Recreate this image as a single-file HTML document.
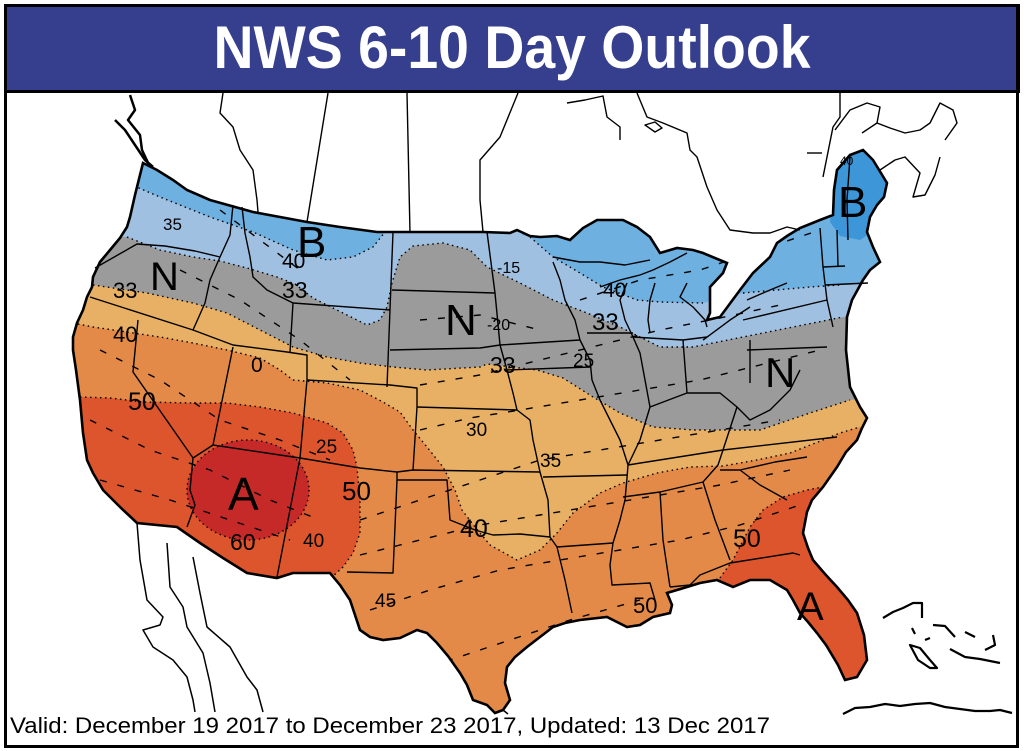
<!DOCTYPE html>
<html><head><meta charset="utf-8"><style>
html,body{margin:0;padding:0;background:#fff;}
svg{display:block;}
text{font-family:"Liberation Sans",sans-serif;}
</style></head><body>
<svg width="1024" height="751" viewBox="0 0 1024 751" xmlns="http://www.w3.org/2000/svg">
<defs>
<clipPath id="us"><path id="usp" d="M143,163 L157,170 L173,180 L187,190 L210,200 L253,212 L307,222 L340,227 L377,232 L483,232 L510,233 L517,230 L530,236 L540,237 L557,236 L570,240 L583,228 L597,220 L623,220 L637,227 L650,237 L660,253 L677,248 L693,250 L703,253 L727,263 L723,273 L710,287 L710,313 L707,320 L720,317 L740,290 L753,273 L770,257 L777,243 L787,236 L800,228 L820,220 L833,215 L834,190 L837,170 L850,155 L863,150 L873,160 L887,183 L884,197 L877,205 L870,217 L867,232 L873,247 L880,262 L870,270 L863,280 L852,300 L847,317 L846,350 L850,387 L860,407 L867,418 L862,428 L857,440 L846,452 L837,467 L823,487 L812,500 L807,512 L803,533 L808,548 L813,560 L825,574 L837,587 L848,600 L857,613 L864,635 L867,660 L857,677 L845,680 L838,665 L826,645 L817,633 L808,622 L800,613 L793,600 L787,590 L770,580 L750,580 L733,587 L717,580 L700,583 L687,587 L667,593 L672,605 L670,613 L653,617 L640,625 L627,627 L607,617 L580,620 L565,623 L553,627 L540,637 L527,647 L515,657 L507,667 L505,683 L510,700 L503,710 L495,713 L487,705 L473,700 L467,685 L460,673 L448,656 L437,643 L427,633 L417,630 L400,638 L383,640 L370,637 L360,630 L355,615 L350,600 L340,585 L330,573 L293,573 L277,578 L247,573 L223,558 L200,543 L177,527 L137,523 L120,507 L103,490 L93,473 L87,460 L83,433 L80,400 L76,370 L73,350 L73,337 L77,323 L83,310 L87,297 L92,287 L93,277 L100,262 L110,250 L120,238 L127,227 L130,217 L135,195 L140,175 Z"/></clipPath>
</defs>
<rect x="0" y="0" width="1024" height="751" fill="#fff"/>
<!-- title -->
<rect x="4" y="4" width="1016" height="89" fill="#000"/>
<rect x="7" y="7" width="1010" height="83" fill="#363f8e"/>
<text x="512" y="68" text-anchor="middle" font-size="60" font-weight="bold" fill="#fff" textLength="597" lengthAdjust="spacingAndGlyphs">NWS 6-10 Day Outlook</text>

<!-- color fields -->
<g clip-path="url(#us)">
<rect x="0" y="90" width="1024" height="650" fill="#e38a48"/>
<path fill="#e8b064" d="M20,323 L73,323 L93,327 L127,332 L160,337 L193,343 L227,350 L260,358 L280,370 L293,380 L327,383 L360,390 L383,402 L400,412 L413,430 L427,447 L443,467 L455,490 L462,510 L475,527 L490,545 L517,560 L540,550 L557,533 L573,513 L600,493 L623,483 L657,473 L690,467 L723,466 L757,460 L790,453 L823,440 L840,433 L860,427 L950,420 L950,100 L20,100 Z"/>
<path fill="#9b9b9b" d="M20,285 L93,285 L147,293 L193,303 L227,313 L260,330 L293,347 L327,357 L360,363 L393,367 L427,370 L480,367 L487,364 L537,370 L563,378 L593,397 L620,413 L653,427 L693,430 L760,430 L810,413 L850,400 L950,390 L950,100 L20,100 Z"/>
<path fill="#a0c0e1" d="M20,237 L127,237 L160,250 L193,257 L220,261 L247,268 L277,277 L295,284 L313,298 L343,313 L367,325 L380,320 L387,307 L392,283 L400,257 L413,246 L443,243 L470,250 L487,267 L520,283 L553,300 L587,313 L620,327 L660,347 L693,347 L743,337 L793,327 L843,317 L950,315 L950,100 L20,100 Z"/>
<path fill="#6eb0e0" d="M20,100 L400,100 L390,225 L385,232 L373,247 L353,257 L327,260 L293,250 L253,232 L210,217 L160,197 L120,180 L20,175 Z"/>
<path fill="#6eb0e0" d="M522,100 L522,235 L530,237 L553,257 L580,273 L603,287 L637,300 L660,302 L703,303 L743,293 L810,287 L840,285 L950,280 L950,100 Z"/>
<path fill="#3d96d7" d="M833,168 L850,152 L868,150 L880,165 L890,185 L878,215 L872,232 L860,240 L840,236 L830,222 L833,195 Z"/>
<path fill="#dc552d" d="M20,397 L80,397 L110,398 L143,402 L193,403 L227,403 L260,407 L293,413 L327,423 L343,433 L353,450 L357,467 L360,500 L360,533 L353,553 L343,567 L332,577 L332,640 L20,640 Z"/>
<path fill="#dc552d" d="M717,582 L733,560 L750,527 L763,510 L783,497 L807,490 L823,487 L950,480 L950,720 L700,720 Z"/>
<ellipse cx="248" cy="490" rx="61" ry="50" fill="#c62a28"/>

<!-- dotted contour boundaries -->
<g fill="none" stroke="#000" stroke-width="1.4" stroke-dasharray="1.5,3.5">
<path d="M73,323 L93,327 L127,332 L160,337 L193,343 L227,350 L260,358 L280,370 L293,380 L327,383 L360,390 L383,402 L400,412 L413,430 L427,447 L443,467 L455,490 L462,510 L475,527 L490,545 L517,560 L540,550 L557,533 L573,513 L600,493 L623,483 L657,473 L690,467 L723,466 L757,460 L790,453 L823,440 L840,433 L860,427"/>
<path d="M93,285 L147,293 L193,303 L227,313 L260,330 L293,347 L327,357 L360,363 L393,367 L427,370 L480,367 L487,364 L537,370 L563,378 L593,397 L620,413 L653,427 L693,430 L760,430 L810,413 L850,400"/>
<path d="M127,237 L160,250 L193,257 L220,261 L247,268 L277,277 L295,284 L313,298 L343,313 L367,325 L380,320 L387,307 L392,283 L400,257 L413,246 L443,243 L470,250 L487,267 L520,283 L553,300 L587,313 L620,327 L660,347 L693,347 L743,337 L793,327 L843,317"/>
<path d="M120,180 L160,197 L210,217 L253,232 L293,250 L327,260 L353,257 L373,247 L385,232"/>
<path d="M530,237 L553,257 L580,273 L603,287 L637,300 L660,302 L703,303 M743,293 L810,287 L840,285"/>
<path d="M80,397 L110,398 L143,402 L193,403 L227,403 L260,407 L293,413 L327,423 L343,433 L353,450 L357,467 L360,500 L360,533 L353,553 L343,567 L332,577"/>
<path d="M717,582 L733,560 L750,527 L763,510 L783,497 L807,490 L823,487"/>
<ellipse cx="248" cy="490" rx="61" ry="50"/>
</g>

<!-- dashed isolines -->
<g fill="none" stroke="#000" stroke-width="1.4" stroke-dasharray="7,11">
<path d="M100,350 L160,380 L220,420 L280,440 L330,460"/>
<path d="M90,420 L150,450 L210,470 L270,500 L320,520"/>
<path d="M100,480 L170,500 L230,520 L290,540"/>
<path d="M180,270 L240,300 L300,340 L350,380"/>
<path d="M220,210 L260,240 L300,270"/>
<path d="M360,520 L420,500 L480,480 L540,460 L600,450 L660,440 L720,430 L780,420"/>
<path d="M360,555 L420,540 L480,525 L540,515 L600,505 L660,495 L720,485 L790,470"/>
<path d="M370,610 L430,590 L500,570 L560,560 L620,550 L680,540 L740,525 L800,505"/>
<path d="M400,690 L450,660 L510,640 L570,620 L640,600"/>
<path d="M420,430 L470,418 L520,410 L580,400 L640,390 L700,380 L760,365 L820,350"/>
<path d="M420,385 L480,375 L540,360 L600,345 L660,330 L720,318 L780,305"/>
<path d="M420,320 L480,315 L540,330"/>
<path d="M580,300 L640,280 L700,270 L760,250 L820,230"/>
</g>
</g>

<!-- US outline -->
<use href="#usp" fill="none" stroke="#000" stroke-width="2.6"/>

<!-- state lines -->
<g fill="none" stroke="#000" stroke-width="1.4" stroke-linejoin="round">
<path d="M95,268 L137,244 L165,246 L195,251 L220,257"/>
<path d="M233,205 L230,235 L220,257 L210,280 L205,303 L193,330"/>
<path d="M90,297 L193,330 L233,345 L287,352 L307,355 L307,380 L300,458"/>
<path d="M242,207 L245,233 L250,257 L253,277 L267,290 L287,300 L293,303 L290,352"/>
<path d="M138,320 L133,372 L193,458 L190,490 L195,505 L187,527"/>
<path d="M233,347 L213,445 L193,458"/>
<path d="M213,445 L300,458 L360,468 L397,472 L413,470 L540,472"/>
<path d="M300,458 L277,577"/>
<path d="M307,380 L390,385 L417,388 L417,407 L413,470"/>
<path d="M417,407 L517,410"/>
<path d="M293,303 L390,310"/>
<path d="M393,232 L387,387"/>
<path d="M392,290 L495,293"/>
<path d="M390,350 L480,348 L500,345"/>
<path d="M487,232 L495,293 L500,345 L507,370 L513,393 L517,410 L530,420 L533,440 L540,472"/>
<path d="M500,345 L580,340"/>
<path d="M553,262 L560,280 L565,300 L575,320 L580,340 L590,360 L592,380 L600,400 L610,420 L620,440 L628,465 L627,478 L625,500 L620,520 L613,543 L610,565 L612,585 L650,583 L655,600"/>
<path d="M507,370 L590,367"/>
<path d="M397,472 L397,480 L447,480 L450,520 L475,530 L493,535 L520,534 L550,537 L557,547 L565,580 L572,613"/>
<path d="M397,480 L393,573 L347,572"/>
<path d="M540,472 L548,500 L550,537"/>
<path d="M543,477 L627,475"/>
<path d="M557,547 L613,543"/>
<path d="M623,497 L660,492 L703,482"/>
<path d="M660,492 L663,540 L670,587"/>
<path d="M703,482 L715,520 L730,560"/>
<path d="M670,587 L690,585 L700,575 L730,563 L793,553 L800,555"/>
<path d="M740,470 L760,485 L787,500"/>
<path d="M720,470 L740,470 L775,462 L807,457"/>
<path d="M723,450 L718,465 L703,482"/>
<path d="M628,465 L723,450 L837,437"/>
<path d="M628,465 L640,440 L650,407 L687,393 L720,393 L737,407 L723,450"/>
<path d="M633,337 L640,353 L650,407"/>
<path d="M587,333 L633,333"/>
<path d="M683,340 L687,393"/>
<path d="M633,337 L683,340 L707,337"/>
<path d="M750,340 L750,383"/>
<path d="M737,407 L750,420 L770,410 L790,390 L800,370"/>
<path d="M747,350 L827,347"/>
<path d="M743,320 L827,300 L833,327"/>
<path d="M827,300 L823,267 L820,228"/>
<path d="M823,267 L845,266"/>
<path d="M825,285 L868,283"/>
<path d="M850,157 L847,200 L848,240"/>
<path d="M837,230 L838,266"/>
<!-- great lakes -->
<path d="M627,283 L620,300 L625,320 L633,337"/>
<path d="M655,283 L650,300 L648,320 L650,333"/>
<path d="M600,287 L620,280 L640,275 L653,270 L670,262 L687,253"/>
<path d="M687,283 L680,297 L693,307 L705,320 L707,327"/>
<path d="M553,257 L580,262 L600,262 L625,265 L650,260"/>
<path d="M703,340 L730,320 L750,307"/>
<path d="M747,300 L770,290 L787,283"/>
</g>

<!-- Canada -->
<g fill="none" stroke="#000" stroke-width="1.4" stroke-linejoin="round">
<path d="M223,93 L220,113 L233,127 L240,150 L253,170 L257,200 L258,212"/>
<path d="M328,93 L307,222"/>
<path d="M407,93 L410,233"/>
<path d="M518,93 L500,137 L480,160 L480,200 L483,232"/>
<path d="M567,103 L585,100 L603,96 L607,117 L620,127 L620,140"/>
<path d="M637,93 L647,117 L663,123 L687,133 L690,150 L697,157 L707,187 L717,210 L730,230 L753,233 L770,233 L787,227 L800,230"/>
<path d="M645,125 L655,122 L662,128 L655,132 Z"/>
<path d="M840,93 L840,117 L833,127 L827,157 L823,177"/>
<path d="M807,153 L822,153"/>
<path d="M835,130 L850,110 L867,103 L880,107 L877,123 L862,133"/>
<path d="M877,123 L890,128 L905,133 L920,130 L930,123 L940,103 L953,110 L957,123 L945,140"/>
<path d="M880,170 L895,160 L905,157 L920,173 L913,197 L925,195 L935,175 L940,157"/>
<path d="M130,95 L135,110 L128,120 L140,135 L142,150 L150,167" stroke-width="2.5"/>
<path d="M115,120 L125,130 L135,145 L145,160 L153,167" stroke-width="2.5"/>
</g>

<!-- Mexico -->
<g fill="none" stroke="#000" stroke-width="1.5" stroke-linejoin="round">
<path d="M137,523 L140,560 L147,600 L163,617 L160,625 L143,630 L153,647 L173,660 L187,677 L193,700 L195,712"/>
<path d="M167,543 L170,587 L183,607 L187,627 L203,653 L210,683 L215,712"/>
<path d="M193,557 L200,593 L207,627 L230,647 L247,677 L257,690 L263,712"/>
<path d="M503,710 L508,714"/>
</g>

<!-- Cuba / Bahamas -->
<g fill="none" stroke="#000" stroke-width="2.2" stroke-linejoin="round">
<path d="M843,714 L855,708 L870,707 L885,704 L900,706 L915,704 L930,703 L945,707 L960,709 L975,711 L990,711 L1000,710 L1012,713"/>
<path d="M883,618 L893,612 L903,608 L913,603 L922,603 L922,618"/>
<path d="M910,645 L920,648 L930,660 L937,668 L930,668 L918,660 Z"/>
<path d="M933,625 L945,626 L955,637"/>
<path d="M950,649 L965,657 L980,659 L1000,663"/>
<path d="M965,632 L975,637"/>
<path d="M993,635 L995,645 L985,650"/>
<path d="M925,640 L930,638"/>
<path d="M912,628 L915,634"/>
</g>

<!-- labels -->
<g fill="#000">
<text x="163" y="230" font-size="17">35</text>
<text x="297" y="257" font-size="44">B</text>
<text x="282" y="268" font-size="21">40</text>
<text x="282" y="298" font-size="23">33</text>
<text x="150" y="290" font-size="40">N</text>
<text x="113" y="298" font-size="22">33</text>
<text x="113" y="342" font-size="22">40</text>
<text x="251" y="372" font-size="21">0</text>
<text x="128" y="410" font-size="25">50</text>
<text x="316" y="453" font-size="19">25</text>
<text x="228" y="510" font-size="46">A</text>
<text x="342" y="500" font-size="26">50</text>
<text x="230" y="550" font-size="23">60</text>
<text x="303" y="547" font-size="19">40</text>
<text x="375" y="607" font-size="19">45</text>
<text x="466" y="436" font-size="19">30</text>
<text x="540" y="467" font-size="19">35</text>
<text x="460" y="537" font-size="25">40</text>
<text x="733" y="547" font-size="25">50</text>
<text x="797" y="620" font-size="40">A</text>
<text x="633" y="613" font-size="22">50</text>
<text x="497" y="273" font-size="16">-15</text>
<text x="445" y="335" font-size="44">N</text>
<text x="487" y="330" font-size="16">-20</text>
<text x="603" y="297" font-size="21">40</text>
<text x="592" y="330" font-size="24">33</text>
<text x="573" y="367" font-size="19">25</text>
<text x="490" y="373" font-size="23">33</text>
<text x="765" y="387" font-size="42">N</text>
<text x="838" y="217" font-size="44">B</text>
<text x="840" y="165" font-size="12">40</text>
</g>

<!-- footer text -->
<text x="10" y="733" font-size="22" fill="#000" textLength="760" lengthAdjust="spacingAndGlyphs">Valid: December 19 2017 to December 23 2017, Updated: 13 Dec 2017</text>

<!-- frame -->
<rect x="5.5" y="5.5" width="1012" height="741" fill="none" stroke="#000" stroke-width="3"/>
</svg>
</body></html>
